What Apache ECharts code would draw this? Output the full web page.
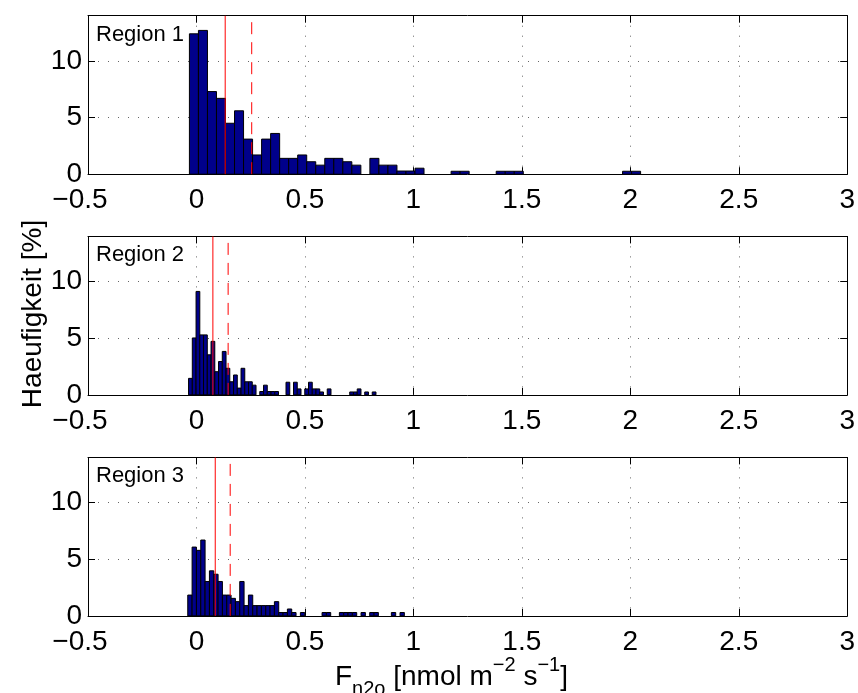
<!DOCTYPE html>
<html><head><meta charset="utf-8">
<script src="https://cdn.jsdelivr.net/npm/echarts@6/dist/echarts.min.js"></script>
<style>html,body{margin:0;padding:0;background:#fff}#c{width:858px;height:693px}</style>
</head><body><div id="c"></div>
<script>
// ---- data ----
const regionNames = ['Region 1', 'Region 2', 'Region 3'];
const xTicks = [-0.5, 0, 0.5, 1, 1.5, 2, 2.5, 3];
const yTicks = [0, 5, 10];
const yMax = 14;
// histogram bins: centre of first bin and bin width per region
const binStart = [-0.0117, -0.0278, -0.0301];
const binWidth = [0.0416, 0.01728, 0.01997];
const region1 = [12.4, 12.7, 7.3, 6.7, 4.5, 5.6, 3.1, 1.7, 3.1, 3.6,
                 1.4, 1.4, 1.7, 1.1, 0.8, 1.4, 1.4, 1.1, 0.8, 0,
                 1.4, 0.8, 0.8, 0.28, 0.28, 0.53, 0, 0, 0, 0.26,
                 0.26, 0, 0, 0, 0.26, 0.26, 0.26, 0, 0, 0,
                 0, 0, 0, 0, 0, 0, 0, 0, 0.26, 0.26];
const region2 = [1.46, 5.03, 9.14, 5.3, 5.3, 3.54, 4.73, 2.05, 2.95, 3.84,
                 2.35, 1.16, 1.76, 0.6, 2.35, 1.16, 1.16, 0.86, 0, 0.3,
                 0.86, 0.3, 0.3, 0.3, 0, 0, 1.12, 0, 1.12, 0.53,
                 0, 0.53, 1.12, 0.53, 0.53, 0.26, 0, 0.53, 0, 0,
                 0, 0, 0, 0.26, 0.26, 0.53, 0, 0.26, 0, 0.26];
const region3 = [1.84, 6.08, 5.79, 6.7, 3.04, 3.98, 3.68, 3.04, 1.84, 1.84,
                 1.55, 1.26, 3.04, 0.91, 1.84, 0.91, 0.91, 0.91, 0.91, 0.91,
                 1.26, 0.3, 0.3, 0.61, 0.3, 0, 0.3, 0, 0, 0,
                 0, 0.3, 0.3, 0, 0, 0.3, 0.3, 0.3, 0.3, 0,
                 0.3, 0, 0.3, 0.3, 0, 0, 0, 0.3, 0, 0.3];
const medianLine = [0.1325, 0.0757, 0.0866];
const meanLine = [0.2547, 0.146, 0.1555];
const yTitle = 'Haeufigkeit [%]';

// ---- chart ----
const FONT = '"Liberation Sans", Arial, Helvetica, sans-serif';
const regions = [region1, region2, region3];
const gridTops = [15.7, 236.4, 457.4];
const gridH = 158.5;
const chart = echarts.init(document.getElementById('c'), null, {renderer: 'canvas'});

const grids = [], xAxes = [], yAxes = [], series = [], graphics = [];
regions.forEach((vals, i) => {
  grids.push({left: 88, width: 762, top: gridTops[i], height: gridH, containLabel: false});
  const xCommon = {
    gridIndex: i, type: 'value', min: xTicks[0], max: xTicks[xTicks.length - 1], interval: 0.5,
    axisLine: {show: true, onZero: false, lineStyle: {color: '#000', width: 1}},
    axisTick: {show: true, inside: true, length: 7, lineStyle: {color: '#000'}}
  };
  xAxes.push(Object.assign({}, xCommon, {
    position: 'bottom',
    axisLabel: {show: true, margin: 12, color: '#000', fontSize: 28, fontFamily: FONT,
      showMinLabel: true, showMaxLabel: true,
      formatter: v => v < 0 ? '{n|\u2212' + Math.abs(v) + '}' : String(v),
      rich: {n: {fontSize: 28, fontFamily: FONT, color: '#000', padding: [0, 16, 0, 0]}}},
    splitLine: {show: true, lineStyle: {color: '#666', width: 1, type: [1, 9]}}
  }));
  xAxes.push(Object.assign({}, xCommon, {
    position: 'top', axisLabel: {show: false}, splitLine: {show: false}
  }));
  const yCommon = {
    gridIndex: i, type: 'value', min: 0, max: yMax, interval: yTicks[1] - yTicks[0],
    axisLine: {show: true, onZero: false, lineStyle: {color: '#000', width: 1}},
    axisTick: {show: true, inside: true, length: 7, lineStyle: {color: '#000'}}
  };
  yAxes.push(Object.assign({}, yCommon, {
    position: 'left',
    axisLabel: {show: true, margin: 6, color: '#000', fontSize: 28, fontFamily: FONT,
      showMaxLabel: false, formatter: v => (yTicks.indexOf(v) >= 0 ? String(v) : '')},
    splitLine: {show: true, lineStyle: {color: '#666', width: 1, type: [1, 9]}}
  }));
  yAxes.push(Object.assign({}, yCommon, {
    position: 'right', axisLabel: {show: false}, splitLine: {show: false}
  }));

  const data = vals.map((v, k) => [binStart[i] + k * binWidth[i], v, binWidth[i]]).filter(d => d[1] > 0);
  series.push({
    type: 'custom', xAxisIndex: 2 * i, yAxisIndex: 2 * i, data: data, clip: true, z: 2,
    renderItem: (params, api) => {
      const x = api.value(0), y = api.value(1), w = api.value(2);
      const p0 = api.coord([x - w / 2, y]);
      const p1 = api.coord([x + w / 2, 0]);
      return {type: 'rect',
        shape: {x: p0[0], y: p0[1], width: p1[0] - p0[0], height: p1[1] - p0[1]},
        style: {fill: '#00008B', stroke: '#000', lineWidth: 1}};
    }
  });
  series.push({
    type: 'line', xAxisIndex: 2 * i, yAxisIndex: 2 * i, z: 5, symbol: 'none',
    data: [[medianLine[i], 0], [medianLine[i], yMax]],
    lineStyle: {color: '#ff0000', width: 1, type: 'solid'}
  });
  series.push({
    type: 'line', xAxisIndex: 2 * i, yAxisIndex: 2 * i, z: 5, symbol: 'none',
    data: [[meanLine[i], 0], [meanLine[i], yMax]],
    lineStyle: {color: '#ff0000', width: 1, type: [12, 8]}
  });
  graphics.push({type: 'text', x: 96, y: gridTops[i] + 8, z: 10,
    style: {text: regionNames[i], fontSize: 22, fontFamily: FONT, fill: '#000', align: 'left', verticalAlign: 'top'}});
});

graphics.push({type: 'text', x: 33, y: 314, rotation: Math.PI / 2, z: 10,
  style: {text: yTitle, fontSize: 28, fontFamily: FONT, fill: '#000', align: 'center', verticalAlign: 'middle'}});
graphics.push({type: 'text', x: 335, y: 655, z: 10,
  style: {
    text: '{m|F}{sub|n2o}{m| [nmol m}{sup|\u22122}{m| s}{sup|\u22121}{m|]}',
    align: 'left', verticalAlign: 'top',
    rich: {
      m: {fontSize: 28, fontFamily: FONT, fill: '#000', color: '#000', lineHeight: 44, verticalAlign: 'middle'},
      sub: {fontSize: 20, fontFamily: FONT, fill: '#000', color: '#000', lineHeight: 20, verticalAlign: 'bottom'},
      sup: {fontSize: 20, fontFamily: FONT, fill: '#000', color: '#000', lineHeight: 20, verticalAlign: 'top'}
    }
  }});

chart.setOption({
  animation: false,
  backgroundColor: '#fff',
  textStyle: {fontFamily: FONT},
  grid: grids, xAxis: xAxes, yAxis: yAxes, series: series, graphic: graphics
});
</script></body></html>
